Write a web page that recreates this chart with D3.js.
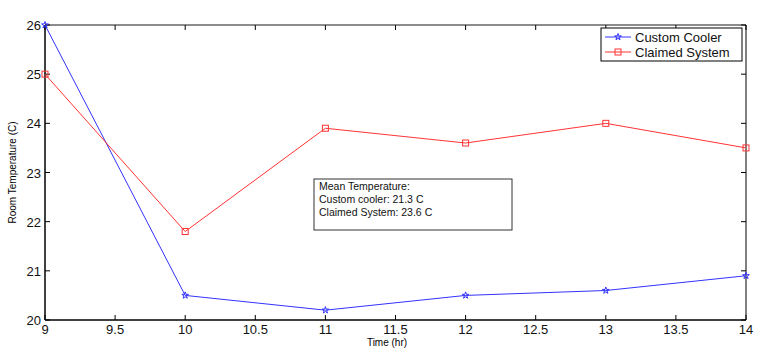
<!DOCTYPE html>
<html>
<head>
<meta charset="utf-8">
<script src="https://cdn.jsdelivr.net/npm/d3@7"></script>
<style>
  body { margin: 0; background: #fff; }
  svg { display: block; font-family: "Liberation Sans", Arial, sans-serif; }
</style>
</head>
<body>
<div id="chart"></div>
<script>
// data
const hours = [9, 10, 11, 12, 13, 14];
const customCooler = [26, 20.5, 20.2, 20.5, 20.6, 20.9];
const claimedSystem = [25, 21.8, 23.9, 23.6, 24.0, 23.5];
const xTicks = [9, 9.5, 10, 10.5, 11, 11.5, 12, 12.5, 13, 13.5, 14];
const yTicks = [20, 21, 22, 23, 24, 25, 26];
const seriesNames = ['Custom Cooler', 'Claimed System'];
const noteLines = ['Mean Temperature:', 'Custom cooler: 21.3 C', 'Claimed System: 23.6 C'];

const W = 767, H = 361;
const margin = { top: 25, right: 21, bottom: 41, left: 45 };
const width = W - margin.left - margin.right;
const height = H - margin.top - margin.bottom;

const svg = d3.select('#chart').append('svg')
  .attr('width', W).attr('height', H);
const g = svg.append('g')
  .attr('transform', `translate(${margin.left},${margin.top})`);

const x = d3.scaleLinear().domain([9, 14]).range([0, width]);
const y = d3.scaleLinear().domain([20, 26]).range([height, 0]);

// frame: top and right a bit lighter
g.append('line').attr('x1', 0).attr('x2', width).attr('y1', 0).attr('y2', 0)
  .attr('stroke', '#666').attr('stroke-width', 1.5);
g.append('line').attr('x1', width).attr('x2', width).attr('y1', 0).attr('y2', height)
  .attr('stroke', '#000').attr('stroke-width', 1);

// ticks pointing inward on all four sides
const tk = 5;
g.selectAll('.xt').data(xTicks).enter().append('line')
  .attr('x1', d => x(d)).attr('x2', d => x(d)).attr('y1', height).attr('y2', height - tk)
  .attr('stroke', '#000');
g.selectAll('.xtt').data(xTicks).enter().append('line')
  .attr('x1', d => x(d)).attr('x2', d => x(d)).attr('y1', 0).attr('y2', tk)
  .attr('stroke', '#000');
g.selectAll('.yt').data(yTicks).enter().append('line')
  .attr('x1', 0).attr('x2', tk).attr('y1', d => y(d)).attr('y2', d => y(d))
  .attr('stroke', '#000');
g.selectAll('.ytr').data(yTicks).enter().append('line')
  .attr('x1', width).attr('x2', width - tk).attr('y1', d => y(d)).attr('y2', d => y(d))
  .attr('stroke', '#000');

g.append('line').attr('x1', 0).attr('x2', width).attr('y1', height).attr('y2', height)
  .attr('stroke', '#000').attr('stroke-width', 1.5);
g.append('line').attr('x1', 0).attr('x2', 0).attr('y1', 0).attr('y2', height)
  .attr('stroke', '#000').attr('stroke-width', 1.5);

// tick labels
g.selectAll('.xl').data(xTicks).enter().append('text')
  .attr('x', d => x(d)).attr('y', height + 14)
  .attr('text-anchor', 'middle').attr('font-size', 13).attr('fill', '#111')
  .text(d => d);
g.selectAll('.yl').data(yTicks).enter().append('text')
  .attr('x', -4).attr('y', d => y(d) + 5)
  .attr('text-anchor', 'end').attr('font-size', 13).attr('fill', '#111')
  .text(d => d);

// axis titles
g.append('text').attr('x', 342).attr('y', height + 26)
  .attr('text-anchor', 'middle').attr('font-size', 10).text('Time (hr)');
g.append('text')
  .attr('transform', `translate(${-29},${height / 2}) rotate(-90)`)
  .attr('text-anchor', 'middle').attr('font-size', 10).text('Room Temperature (C)');

// series
const colors = ['#3333ff', '#ff3333'];
const series = [customCooler, claimedSystem];
const line = d3.line().x((d, i) => x(hours[i])).y(d => y(d));

series.forEach((vals, s) => {
  g.append('path').datum(vals)
    .attr('fill', 'none').attr('stroke', colors[s]).attr('stroke-width', 1)
    .attr('d', line);
});

const star = d3.symbol().type(d3.symbolStar).size(14);
g.selectAll('.m0').data(customCooler).enter().append('path')
  .attr('transform', (d, i) => `translate(${x(hours[i])},${y(d)})`)
  .attr('d', star).attr('fill', 'none').attr('stroke', colors[0]).attr('stroke-width', 1);
g.selectAll('.m1').data(claimedSystem).enter().append('rect')
  .attr('x', (d, i) => x(hours[i]) - 3).attr('y', d => y(d) - 3)
  .attr('width', 6).attr('height', 6)
  .attr('fill', 'none').attr('stroke', colors[1]).attr('stroke-width', 1);

// legend
const lg = svg.append('g').attr('transform', 'translate(601,28)');
lg.append('rect').attr('width', 141).attr('height', 33)
  .attr('fill', '#fff').attr('stroke', '#000').attr('stroke-width', 1);
seriesNames.forEach((name, s) => {
  const yy = 9 + s * 15;
  lg.append('line').attr('x1', 4).attr('x2', 30).attr('y1', yy).attr('y2', yy)
    .attr('stroke', colors[s]);
  if (s === 0) {
    lg.append('path').attr('transform', `translate(17,${yy})`)
      .attr('d', star).attr('fill', 'none').attr('stroke', colors[s]);
  } else {
    lg.append('rect').attr('x', 14).attr('y', yy - 3).attr('width', 6).attr('height', 6)
      .attr('fill', 'none').attr('stroke', colors[s]);
  }
  lg.append('text').attr('x', 34).attr('y', yy + 5)
    .attr('font-size', 13).attr('fill', '#111').text(name);
});

// annotation box
const nb = svg.append('g').attr('transform', 'translate(314,179)');
nb.append('rect').attr('width', 198).attr('height', 51)
  .attr('fill', '#fff').attr('stroke', '#333').attr('stroke-width', 1);
noteLines.forEach((t, i) => {
  nb.append('text').attr('x', 5).attr('y', 11 + i * 13)
    .attr('font-size', 10.5).attr('fill', '#111').text(t);
});
</script>
</body>
</html>
